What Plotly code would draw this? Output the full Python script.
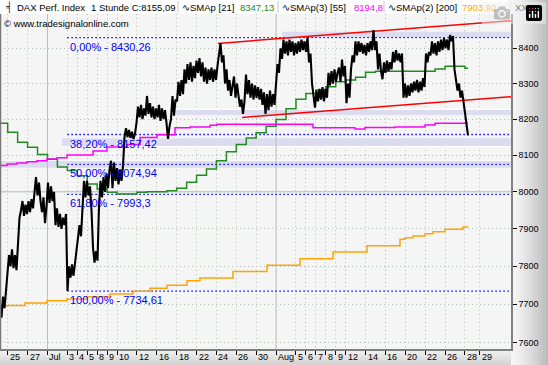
import math
import plotly.graph_objects as go

# ---------------- layout constants ----------------
W, H = 548, 365
ML, MR, MT, MB = 0, 37, 14, 16
PW = W - ML - MR   # 511
PH = H - MT - MB   # 335

# ---------------- data ----------------
date_labels = ["25", "27", "Jul", "3", "4", "5", "8", "9", "10", "12", "16", "18", "22", "24", "26", "30",
               "Aug", "5", "6", "7", "8", "9", "12", "14", "16", "20", "22", "26", "28", "29"]
date_days = [0, 2, 4, 6, 7, 8, 9, 10, 11, 13, 15, 17, 19, 21, 23, 25,
             27, 29, 30, 31, 32, 33, 34, 36, 38, 40, 42, 44, 46, 47.5]
month_days = [4, 27]
DAY0, DAY_W = 7.7, 9.94          # bar position of first labelled day, bars per trading day
price_ticks = [7600, 7700, 7800, 7900, 8000, 8100, 8200, 8300, 8400]

# hourly price path (high/low alternating), one value every PATH_STEP bars
PATH_STEP = 1.5
price_path = [
    7700, 7665, 7720, 7690, 7735, 7780, 7830, 7800, 7845, 7795,
    7830, 7790, 7850, 7930, 7950, 7975, 7935, 7965, 7940, 7975,
    7945, 7980, 7955, 7990, 8040, 7990, 8025, 7975, 7945, 7985,
    7915, 7960, 8025, 7970, 8015, 7975, 8000, 7910, 7955, 7905,
    7940, 7900, 7930, 7910, 7940, 7735, 7800, 7770, 7805, 7775,
    7810, 7840, 7880, 7910, 7880, 7970, 8030, 7985, 8030, 7990,
    8015, 7950, 7850, 7810, 7840, 7815, 7960, 8030, 7985, 8040,
    8000, 8050, 8010, 8060, 8085, 8010, 8080, 8030, 8065, 8020,
    8060, 8030, 8070, 8150, 8175, 8150, 8170, 8148, 8165, 8145,
    8160, 8190, 8235, 8205, 8240, 8200, 8230, 8210, 8265, 8215,
    8245, 8205, 8235, 8200, 8230, 8205, 8240, 8195, 8230, 8200,
    8225, 8190, 8145, 8180, 8200, 8265, 8210, 8255, 8250, 8305,
    8265, 8310, 8270, 8340, 8300, 8355, 8310, 8360, 8305, 8350,
    8315, 8365, 8330, 8372, 8320, 8360, 8305, 8345, 8300, 8340,
    8310, 8345, 8305, 8340, 8310, 8350, 8390, 8415, 8360, 8380,
    8300, 8340, 8280, 8310, 8265, 8300, 8320, 8260, 8300, 8265,
    8235, 8255, 8215, 8250, 8325, 8270, 8310, 8260, 8300, 8255,
    8295, 8260, 8290, 8255, 8285, 8240, 8275, 8215, 8270, 8225,
    8280, 8235, 8270, 8240, 8310, 8355, 8330, 8400, 8370, 8425,
    8385, 8420, 8380, 8425, 8390, 8420, 8380, 8415, 8385, 8420,
    8390, 8425, 8395, 8420, 8390, 8432, 8360, 8385, 8300, 8260,
    8232, 8280, 8250, 8285, 8255, 8290, 8250, 8285, 8260, 8330,
    8295, 8335, 8300, 8340, 8305, 8330, 8345, 8305, 8368, 8320,
    8350, 8245, 8300, 8260, 8340, 8380, 8360, 8420, 8380, 8420,
    8390, 8415, 8385, 8410, 8380, 8415, 8390, 8420, 8395, 8452,
    8395, 8420, 8340, 8385, 8335, 8312, 8360, 8330, 8365, 8335,
    8360, 8340, 8390, 8360, 8395, 8365, 8385, 8360, 8385, 8260,
    8300, 8260, 8295, 8265, 8300, 8275, 8305, 8280, 8310, 8275,
    8305, 8280, 8315, 8290, 8385, 8360, 8390, 8380, 8420, 8385,
    8415, 8380, 8420, 8390, 8425, 8395, 8430, 8400, 8425, 8395,
    8438, 8420, 8435, 8340, 8310, 8280, 8300, 8260, 8280, 8245,
    8220, 8175, 8155,
]

# SMAp [21] : one value per trading day, starting with the day before '25'
sma21_daily = [8189, 8164, 8136, 8122, 8102, 8089, 8068, 8058, 8044, 8021,
               8008, 7999, 7994, 7994, 7999, 8000, 8000, 8003, 8010, 8026,
               8045, 8062, 8085, 8110, 8130, 8148, 8162, 8180, 8199, 8229,
               8256, 8272, 8282, 8291, 8305, 8310, 8318, 8332, 8335, 8335,
               8335, 8335, 8335, 8335, 8341, 8349, 8349, 8343]
# SMAp(3) [55]
sma55_x = [0, 7, 17, 27, 37, 47, 57, 67, 93, 107, 127, 140, 157, 175, 190, 210, 217, 313, 355, 365, 395, 425, 435]
sma55_y = [8072, 8076, 8079, 8082, 8085, 8090, 8093, 8101, 8112, 8123, 8130, 8149, 8157, 8176, 8178, 8183, 8186,
           8176, 8173, 8177, 8178, 8184, 8189]
# SMAp(2) [200]
sma200_x = [0, 25, 47, 67, 87, 110, 133, 150, 167, 187, 200, 233, 267, 300, 333, 367, 400, 405, 413, 425, 433, 445, 463]
sma200_y = [7697, 7703, 7709, 7714, 7720, 7727, 7734, 7742, 7750, 7762, 7769, 7786, 7803, 7820, 7838, 7855,
            7872, 7876, 7881, 7887, 7892, 7899, 7905]
SMA_END = 468

fib_levels = [8430.26, 8157.42, 8074.94, 7993.3, 7734.61]
fib_text = ["0,00% - 8430,26", "38,20% - 8157,42", "50,00% - 8074,94", "61,80% - 7993,3", "100,00% - 7734,61"]
fib_start_day = 6

band_x0 = [282, 176, 62, 0]
band_lo = [8428.6, 8211.6, 8124.2, 8065.5]
band_hi = [8447.5, 8227.6, 8146.9, 8085.7]

chan_up_x = [218, 511]
chan_up_y = [8414, 8479]
chan_lo_x = [242, 511]
chan_lo_y = [8205, 8263]

Y_MIN, Y_MAX = 7583.8, 8498.5
X_MAX = 511

FONT = "Liberation Sans, Arial, sans-serif"
GRID = "#b4c2b4"


def day_x(d):
    return DAY0 + DAY_W * d


fig = go.Figure()

# lavender zones
for x0, lo, hi in zip(band_x0, band_lo, band_hi):
    fig.add_trace(go.Scatter(x=[x0, X_MAX, X_MAX, x0, x0], y=[lo, lo, hi, hi, lo], mode="lines",
                             fill="toself", fillcolor="#dcdcf0", line=dict(width=0),
                             hoverinfo="skip", showlegend=False))
# white edges of zones
for x0, yv in [(band_x0[0], band_lo[0]), (band_x0[1], band_hi[1]), (band_x0[2], band_lo[2]), (band_x0[3], band_hi[3])]:
    fig.add_trace(go.Scatter(x=[x0, X_MAX], y=[yv, yv], mode="lines", line=dict(color="white", width=1.2),
                             hoverinfo="skip", showlegend=False))

# month separators and 8000 line
for d in month_days:
    fig.add_trace(go.Scatter(x=[day_x(d), day_x(d)], y=[Y_MIN, Y_MAX], mode="lines",
                             line=dict(color="#b4c4b4", width=1), hoverinfo="skip", showlegend=False))
fig.add_trace(go.Scatter(x=[0, X_MAX], y=[8000, 8000], mode="lines",
                         line=dict(color="#b4c4b4", width=1), hoverinfo="skip", showlegend=False))

# fibonacci levels
for lv in fib_levels:
    fig.add_trace(go.Scatter(x=[day_x(fib_start_day), X_MAX], y=[lv, lv], mode="lines",
                             line=dict(color="#0000ff", width=1.3, dash="1.5px,2.5px"),
                             hoverinfo="skip", showlegend=False))

# moving averages
fig.add_trace(go.Scatter(x=sma200_x + [SMA_END], y=sma200_y + [sma200_y[-1]], mode="lines", line_shape="hv",
                         line=dict(color="#ffa500", width=1.5), showlegend=False))
g_x = [max(0, day_x(j - 1)) for j in range(len(sma21_daily))] + [SMA_END]
fig.add_trace(go.Scatter(x=g_x, y=sma21_daily + [sma21_daily[-1]], mode="lines", line_shape="hv",
                         line=dict(color="#228b22", width=1.5), showlegend=False))
fig.add_trace(go.Scatter(x=sma55_x + [SMA_END], y=sma55_y + [sma55_y[-1]], mode="lines", line_shape="hv",
                         line=dict(color="#ff00ff", width=1.5), showlegend=False))

# channel lines
fig.add_trace(go.Scatter(x=chan_up_x, y=chan_up_y, mode="lines", line=dict(color="#ff0000", width=1.5),
                         showlegend=False))
fig.add_trace(go.Scatter(x=chan_lo_x, y=chan_lo_y, mode="lines", line=dict(color="#ff0000", width=1.5),
                         showlegend=False))

# price
fig.add_trace(go.Scatter(x=[i * PATH_STEP for i in range(len(price_path))], y=price_path, mode="lines",
                         line=dict(color="#000000", width=2.1), showlegend=False))

annotations = []
# fib labels
for lv, txt in zip(fib_levels, fib_text):
    annotations.append(dict(x=day_x(fib_start_day) + 0.5, y=math.log10(lv), xref="x", yref="y",
                            text=txt, showarrow=False, xanchor="left", yanchor="top", yshift=-1,
                            font=dict(family=FONT, size=11, color="#0000ff")))
# date labels
for lab, d in zip(date_labels, date_days):
    annotations.append(dict(x=day_x(d), y=(349 - 357) / PH, xref="x", yref="paper", text=lab,
                            showarrow=False, xanchor="left", yanchor="middle", xshift=0,
                            font=dict(family=FONT, size=9, color="#000000")))


def hdr(px, txt, color="#000000", size=9.5):
    annotations.append(dict(x=px / PW, y=(349 - 7.5) / PH, xref="paper", yref="paper", text=txt,
                            showarrow=False, xanchor="left", yanchor="middle",
                            font=dict(family=FONT, size=size, color=color)))


hdr(3, "╡")
hdr(15, "DAX Perf. Index")
hdr(89, "1 Stunde C:8155,09")
hdr(180, "∿SMAp [21]")
hdr(238, "8347,13", "#228b22")
hdr(280, "∿SMAp(3) [55]")
hdr(352, "8194,8", "#ff00ff")
hdr(386, "∿SMAp(2) [200]")
hdr(460, "7903,92", "#ffa500")
hdr(513, "XXP")
annotations.append(dict(x=2 / PW, y=(349 - 24) / PH, xref="paper", yref="paper",
                        text="© www.tradesignalonline.com", showarrow=False, xanchor="left",
                        yanchor="middle", font=dict(family=FONT, size=9.5, color="#000000")))

shapes = []
# right strip gradient
n = 14
for i in range(n):
    c = int(246 - (246 - 188) * (i / (n - 1)) ** 1.3)
    shapes.append(dict(type="rect", xref="paper", yref="paper",
                       x0=(PW + i * (MR / n)) / PW, x1=(PW + (i + 1) * (MR / n) + 0.5) / PW,
                       y0=-MB / PH, y1=(PH + MT) / PH, fillcolor=f"rgb({c},{c},{c})",
                       line=dict(width=0), layer="below"))
# bottom strip gradient
m = 6
for i in range(m):
    c = int(242 - 30 * i / (m - 1))
    shapes.append(dict(type="rect", xref="paper", yref="paper", x0=0, x1=1,
                       y0=-(i + 1) * (MB / m) / PH - 0.002, y1=-i * (MB / m) / PH,
                       fillcolor=f"rgb({c},{c},{c})", line=dict(width=0), layer="below"))
# white header strip
shapes.append(dict(type="rect", xref="paper", yref="paper", x0=0, x1=509 / PW, y0=1, y1=(PH + MT) / PH,
                   fillcolor="white", line=dict(width=0), layer="below"))
# header separators
for px in [178, 278, 384]:
    shapes.append(dict(type="line", xref="paper", yref="paper", x0=px / PW, x1=px / PW,
                       y0=(349 - 1) / PH, y1=(349 - 13) / PH, line=dict(color="#c8c8c8", width=1)))
# left frame
shapes.append(dict(type="line", xref="paper", yref="paper", x0=0.5 / PW, x1=0.5 / PW, y0=0, y1=1,
                   line=dict(color="#7a7a7a", width=1.5)))

fig.update_layout(
    width=W, height=H, margin=dict(l=ML, r=MR, t=MT, b=MB),
    paper_bgcolor="#efefef", plot_bgcolor="#f5f5f5",
    showlegend=False, annotations=annotations, shapes=shapes,
    font=dict(family=FONT, size=9, color="#000000"),
    xaxis=dict(range=[0, X_MAX], tickvals=[day_x(d) for d in date_days], showticklabels=False,
               ticks="outside", ticklen=4, tickcolor="#000000", tickwidth=1,
               showgrid=True, gridcolor=GRID, griddash="1px,3px", gridwidth=1,
               showline=True, linecolor="#808080", linewidth=1.5, zeroline=False, fixedrange=True),
    yaxis=dict(type="log", range=[math.log10(Y_MIN), math.log10(Y_MAX)], side="right",
               tickvals=price_ticks, ticktext=[str(v) for v in price_ticks],
               ticks="outside", ticklen=4, tickcolor="#000000", tickwidth=1,
               tickfont=dict(family=FONT, size=9, color="#000000"),
               showgrid=True, gridcolor=GRID, griddash="1px,3px", gridwidth=1,
               showline=True, linecolor="#808080", linewidth=1.5, zeroline=False, fixedrange=True),
)

fig.write_html("out.html",
               post_script="document.body.style.margin='0';document.body.style.padding='0';"
                           "document.body.style.overflow='hidden';")
